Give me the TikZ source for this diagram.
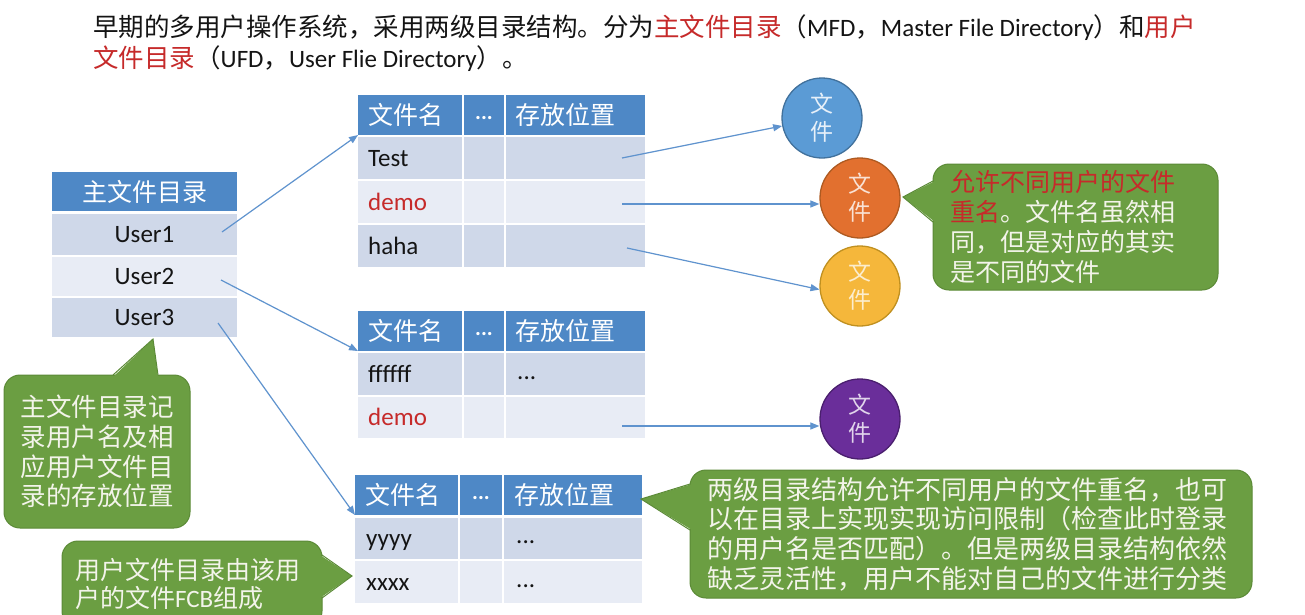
\documentclass[tikz,border=0pt]{standalone}
\usepackage{fontspec}
\setmainfont{Carlito}
\newfontfamily\cjk{Noto Sans CJK SC}
\usetikzlibrary{arrows.meta}

\definecolor{ink}{HTML}{141414}
\definecolor{hl}{HTML}{C62A2A}
\definecolor{hdr}{HTML}{4E88C6}
\definecolor{rowA}{HTML}{CFD8E9}
\definecolor{rowB}{HTML}{E8ECF5}
\definecolor{linkc}{HTML}{5F93CE}
\definecolor{note}{HTML}{6B9E42}
\definecolor{noteedge}{HTML}{5B8A36}
\definecolor{notetext}{HTML}{F3F4EA}
\definecolor{cblue}{HTML}{5B9BD5}
\definecolor{cblueD}{HTML}{41719C}
\definecolor{corange}{HTML}{E2702F}
\definecolor{corangeD}{HTML}{AE5A21}
\definecolor{cyellow}{HTML}{F5B73B}
\definecolor{cyellowD}{HTML}{C09020}
\definecolor{cpurple}{HTML}{6A2E9A}
\definecolor{cpurpleD}{HTML}{4A1F6E}

% table cell: name, x1, y1, x2, y2, fill
\newcommand\boxcell[6]{\node[cellshape,fill=#6,minimum width={(#4-#2)*1pt},minimum height={(#5-#3)*1pt}] (#1) at ({(#2+#4)/2},{(#3+#5)/2}) {};}
\newcommand\lat[1]{{\rmfamily\fontsize{25}{30}\selectfont #1}}

\begin{document}
\begin{tikzpicture}[x=1pt,y=-1pt,
  cellshape/.style={rectangle,draw=none,inner sep=0pt,outer sep=0pt},
  hdrtext/.style={text=white,font=\cjk\fontsize{25}{30}\selectfont,inner sep=0pt,anchor=base west},
  hdrdots/.style={text=white,font=\bfseries\fontsize{22}{30}\selectfont,inner sep=0pt,anchor=base},
  celltext/.style={text=ink,font=\fontsize{25}{30}\selectfont,inner sep=0pt,anchor=base west},
  filenode/.style={circle,minimum size=80pt,inner sep=0pt,line width=1.3pt,align=center,font=\cjk\fontsize{23}{28}\selectfont},
  link/.style={draw=linkc,line width=1.2pt,-{Triangle[length=9pt,width=7pt]}},
  notebox/.style={rounded corners=16pt,fill=note,draw=noteedge,line width=1pt,text=notetext,align=left,inner sep=0pt},
  notetip/.style={draw=noteedge,line width=1pt,line join=miter},
  titletext/.style={text=ink,font=\cjk\fontsize{25.5}{30}\selectfont,inner sep=0pt,anchor=base west},
]
\fill[white] (0,0) rectangle (1305,614);
\useasboundingbox (0,0) rectangle (1305,614);

% heading
\node[titletext] (ttl1) at (93,36.5) {早期的多用户操作系统，采用两级目录结构。分为\textcolor{hl}{主文件目录}（\lat{MFD}，\lat{Master File Directory}）和\textcolor{hl}{用户}};
\node[titletext] (ttl2) at (93,67.5) {\textcolor{hl}{文件目录}（\lat{UFD}，\lat{User Flie Directory}）。};

% master file directory
\boxcell{mh}{52}{172}{237}{211}{hdr}
\boxcell{m1}{52}{214}{237}{255}{rowA}
\boxcell{m2}{52}{257}{237}{296}{rowB}
\boxcell{m3}{52}{298}{237}{337}{rowA}
\node[hdrtext,anchor=base] (mht) at ([yshift=-9.5pt]mh.center) {主文件目录};
\node[celltext,anchor=base] (m1t) at ([yshift=-8pt]m1.center) {User1};
\node[celltext,anchor=base] (m2t) at ([yshift=-8pt]m2.center) {User2};
\node[celltext,anchor=base] (m3t) at ([yshift=-8pt]m3.center) {User3};

% user file directory 1
\boxcell{t1ha}{358}{95}{462}{135}{hdr}
\boxcell{t1hb}{464}{95}{504}{135}{hdr}
\boxcell{t1hc}{506}{95}{645}{135}{hdr}
\boxcell{t1aa}{358}{137}{462}{179}{rowA}
\boxcell{t1ab}{464}{137}{504}{179}{rowA}
\boxcell{t1ac}{506}{137}{645}{179}{rowA}
\boxcell{t1ba}{358}{181}{462}{223}{rowB}
\boxcell{t1bb}{464}{181}{504}{223}{rowB}
\boxcell{t1bc}{506}{181}{645}{223}{rowB}
\boxcell{t1ca}{358}{225}{462}{267}{rowA}
\boxcell{t1cb}{464}{225}{504}{267}{rowA}
\boxcell{t1cc}{506}{225}{645}{267}{rowA}
\node[hdrtext] (t1hat) at ([xshift=10pt,yshift=-9.5pt]t1ha.west) {文件名};
\node[hdrdots] (t1hbt) at ([yshift=-4pt]t1hb.center) {...};
\node[hdrtext] (t1hct) at ([xshift=9pt,yshift=-9.5pt]t1hc.west) {存放位置};
\node[celltext] (t1aat) at ([xshift=10pt,yshift=-8pt]t1aa.west) {Test};
\node[celltext,text=hl] (t1bat) at ([xshift=10pt,yshift=-8pt]t1ba.west) {demo};
\node[celltext] (t1cat) at ([xshift=10pt,yshift=-8pt]t1ca.west) {haha};

% user file directory 2
\boxcell{t2ha}{358}{311}{462}{351}{hdr}
\boxcell{t2hb}{464}{311}{504}{351}{hdr}
\boxcell{t2hc}{506}{311}{645}{351}{hdr}
\boxcell{t2aa}{358}{353}{462}{395}{rowA}
\boxcell{t2ab}{464}{353}{504}{395}{rowA}
\boxcell{t2ac}{506}{353}{645}{395}{rowA}
\boxcell{t2ba}{358}{397}{462}{438}{rowB}
\boxcell{t2bb}{464}{397}{504}{438}{rowB}
\boxcell{t2bc}{506}{397}{645}{438}{rowB}
\node[hdrtext] (t2hat) at ([xshift=10pt,yshift=-9.5pt]t2ha.west) {文件名};
\node[hdrdots] (t2hbt) at ([yshift=-4pt]t2hb.center) {...};
\node[hdrtext] (t2hct) at ([xshift=9pt,yshift=-9.5pt]t2hc.west) {存放位置};
\node[celltext] (t2aat) at ([xshift=10pt,yshift=-8pt]t2aa.west) {ffffff};
\node[celltext] (t2act) at ([xshift=11pt,yshift=-5pt]t2ac.west) {...};
\node[celltext,text=hl] (t2bat) at ([xshift=10pt,yshift=-8pt]t2ba.west) {demo};

% user file directory 3
\boxcell{t3ha}{355}{475}{458}{515}{hdr}
\boxcell{t3hb}{460}{475}{502}{515}{hdr}
\boxcell{t3hc}{504}{475}{642}{515}{hdr}
\boxcell{t3aa}{355}{518}{458}{559}{rowA}
\boxcell{t3ab}{460}{518}{502}{559}{rowA}
\boxcell{t3ac}{504}{518}{642}{559}{rowA}
\boxcell{t3ba}{355}{561}{458}{603}{rowB}
\boxcell{t3bb}{460}{561}{502}{603}{rowB}
\boxcell{t3bc}{504}{561}{642}{603}{rowB}
\node[hdrtext] (t3hat) at ([xshift=10pt,yshift=-9.5pt]t3ha.west) {文件名};
\node[hdrdots] (t3hbt) at ([yshift=-4pt]t3hb.center) {...};
\node[hdrtext] (t3hct) at ([xshift=10pt,yshift=-9.5pt]t3hc.west) {存放位置};
\node[celltext] (t3aat) at ([xshift=11pt,yshift=-8pt]t3aa.west) {yyyy};
\node[celltext] (t3act) at ([xshift=12pt,yshift=-5pt]t3ac.west) {...};
\node[celltext] (t3bat) at ([xshift=11pt,yshift=-8pt]t3ba.west) {xxxx};
\node[celltext] (t3bct) at ([xshift=12pt,yshift=-5pt]t3bc.west) {...};

% files
\node[filenode,fill=cblue,draw=cblueD,text=white!85!cblue] (c1) at (822,118) {文\\件};
\node[filenode,fill=corange,draw=corangeD,text=white!80!corange] (c2) at (860,198) {文\\件};
\node[filenode,fill=cyellow,draw=cyellowD,text=white!75!cyellow] (c3) at (860,286) {文\\件};
\node[filenode,fill=cpurple,draw=cpurpleD,text=white!80!cpurple] (c4) at (860,419) {文\\件};

% links from the master directory to each user directory
\coordinate (u1) at (222,232);
\coordinate (u2) at (221,280);
\coordinate (u3) at (218,323);
\draw[link] (u1) -- (t1ha.south west);
\draw[link] (u2) -- (t2ha.south west);
\draw[link] (u3) -- (t3ha.south west);

% links from directory entries to files
\coordinate (f1) at (622,158);
\coordinate (f2) at (622,204);
\coordinate (f3) at (627,248);
\coordinate (f4) at (622,426);
\draw[link] (f1) -- (c1);
\draw[link] (f2) -- (f2 -| c2.west);
\draw[link] (f3) -- (c3.185);
\draw[link] (f4) -- (f4 -| c4.west);

% notes
\node[notebox,minimum width=285pt,minimum height=126pt,text width=251pt,font=\cjk\fontsize{25}{30}\selectfont] (n1) at (1075.5,227)
  {\textcolor{hl}{允许不同用户的文件}\\\textcolor{hl}{重名}。文件名虽然相\\同，但是对应的其实\\是不同的文件};
\fill[note] (935,181) -- (903,197) -- (935,222) -- cycle;
\draw[notetip] (933,181) -- (903,197) -- (933,222);

\node[notebox,minimum width=186pt,minimum height=153pt,text width=153pt,font=\cjk\fontsize{25.5}{29.7}\selectfont] (n2) at (97,451.5)
  {主文件目录记\\录用户名及相\\应用户文件目\\录的存放位置};
\fill[note] (113,377) -- (153,339) -- (158,377) -- cycle;
\draw[notetip] (113,375) -- (153,339) -- (158,375);

\node[notebox,minimum width=260pt,minimum height=86pt,text width=234pt,font=\cjk\fontsize{25}{28}\selectfont] (n3) at (192,584)
  {用户文件目录由该用\\户的文件{\rmfamily FCB}组成};
\fill[note] (320,555) -- (352,576) -- (320,598) -- cycle;
\draw[notetip] (322,555) -- (352,576) -- (322,598);

\node[notebox,minimum width=562pt,minimum height=128pt,text width=528pt,font=\cjk\fontsize{26}{29.7}\selectfont] (n4) at (971,534)
  {两级目录结构允许不同用户的文件重名，也可\\以在目录上实现实现访问限制（检查此时登录\\的用户名是否匹配）。但是两级目录结构依然\\缺乏灵活性，用户不能对自己的文件进行分类};
\fill[note] (692,484) -- (641,499) -- (692,530) -- cycle;
\draw[notetip] (690,484) -- (641,499) -- (690,530);
\end{tikzpicture}
\end{document}
